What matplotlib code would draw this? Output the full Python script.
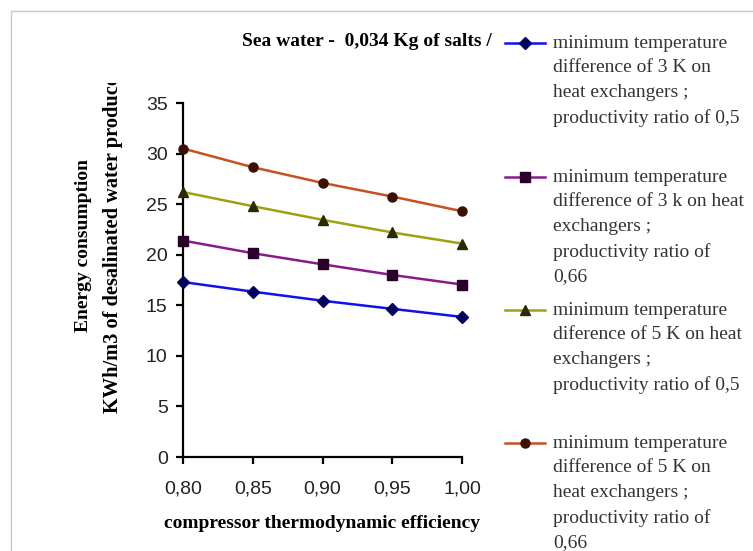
import matplotlib.pyplot as plt
from matplotlib.lines import Line2D
from matplotlib.patches import Rectangle
from matplotlib.transforms import Bbox, TransformedBbox

efficiency = [0.80, 0.85, 0.90, 0.95, 1.00]
x_ticklabels = ['0,80', '0,85', '0,90', '0,95', '1,00']

dt3_pr05 = [17.3, 16.35, 15.45, 14.65, 13.85]
dt3_pr066 = [21.4, 20.15, 19.05, 18.0, 17.05]
dt5_pr05 = [26.2, 24.8, 23.45, 22.2, 21.1]
dt5_pr066 = [30.5, 28.65, 27.1, 25.75, 24.3]

labels = [
    'minimum temperature\ndifference of 3 K on\nheat exchangers ;\nproductivity ratio of 0,5',
    'minimum temperature\ndifference of 3 k on heat\nexchangers ;\nproductivity ratio of\n0,66',
    'minimum temperature\ndiference of 5 K on heat\nexchangers ;\nproductivity ratio of 0,5',
    'minimum temperature\ndifference of 5 K on\nheat exchangers ;\nproductivity ratio of\n0,66',
]

series = [dt3_pr05, dt3_pr066, dt5_pr05, dt5_pr066]
colors = ['#1010f0', '#8a1a8a', '#a0a010', '#c8501e']
face = ['#000060', '#2a002a', '#2a2a00', '#3a1000']
markers = ['D', 's', '^', 'o']
msizes = [6, 6.5, 7.5, 6.5]

W, H = 753, 551
fig = plt.figure(figsize=(W / 100, H / 100), dpi=100)
fig.patch.set_facecolor('white')

# light frame around the chart area
fig.patches.append(Rectangle((11 / W, -0.05), 1.2, 1 - 11 / H + 0.05,
                             transform=fig.transFigure, fill=False,
                             edgecolor='#c8c8c8', lw=1.0))

ax = fig.add_axes([183 / W, 1 - 457 / H, (462 - 183) / W, (457 - 103) / H])

for vals, c, fc, m, ms in zip(series, colors, face, markers, msizes):
    ax.plot(efficiency, vals, color=c, lw=1.8, marker=m, ms=ms,
            markerfacecolor=fc, markeredgecolor=fc, clip_on=False, zorder=3)

ax.set_xlim(0.80, 1.00)
ax.set_ylim(0, 35)
ax.set_xticks(efficiency)
ax.set_xticklabels(x_ticklabels)
ax.set_yticks(range(0, 36, 5))
for s in ['top', 'right']:
    ax.spines[s].set_visible(False)
for s in ['left', 'bottom']:
    ax.spines[s].set_linewidth(1.6)
    ax.spines[s].set_zorder(2)
ax.tick_params(length=5, width=1.6, direction='out')
ax.tick_params(axis='x', pad=12)
ax.tick_params(axis='y', pad=6)
for lab in ax.get_xticklabels() + ax.get_yticklabels():
    lab.set_fontfamily('Liberation Sans')
    lab.set_fontsize(14)
    lab.set_color('#222222')

serif = 'Liberation Serif'
fig.text(322 / W, 1 - 524 / H, 'compressor thermodynamic efficiency',
         ha='center', va='center', family=serif, weight='bold', fontsize=14)
fig.text(83 / W, 1 - 246 / H, 'Energy consumption', rotation=90,
         ha='center', va='center', family=serif, weight='bold', fontsize=14)
# second line is cut off at the top in the original
yl2 = fig.text(113 / W, 1 - 413 / H, 'KWh/m3 of desalinated water produced', rotation=90,
               ha='center', va='bottom', family=serif, weight='bold', fontsize=14.7)
yl2.set_clip_box(TransformedBbox(Bbox([[0, 0], [1, 1 - 83 / H]]), fig.transFigure))
yl2.set_clip_on(True)
fig.text(242 / W, 1 - 42 / H, 'Sea water -  0,034 Kg of salts /',
         ha='left', va='center', family=serif, weight='bold', fontsize=14)

# legend, handle aligned with the first line of each entry
first_lines = [43, 177, 310, 443]
for y0, lab, c, fc, m, ms in zip(first_lines, labels, colors, face, markers, msizes):
    yf = 1 - y0 / H
    fig.add_artist(Line2D([505 / W, 545 / W], [yf, yf], transform=fig.transFigure,
                          color=c, lw=1.8))
    fig.add_artist(Line2D([525 / W], [yf], transform=fig.transFigure,
                          marker=m, ms=ms, markerfacecolor=fc, markeredgecolor=fc))
    fig.text(553 / W, 1 - (y0 - 8) / H, lab, ha='left', va='top',
             family=serif, fontsize=14, linespacing=1.57, color='#333333')

fig.savefig('out.png', dpi=100)
